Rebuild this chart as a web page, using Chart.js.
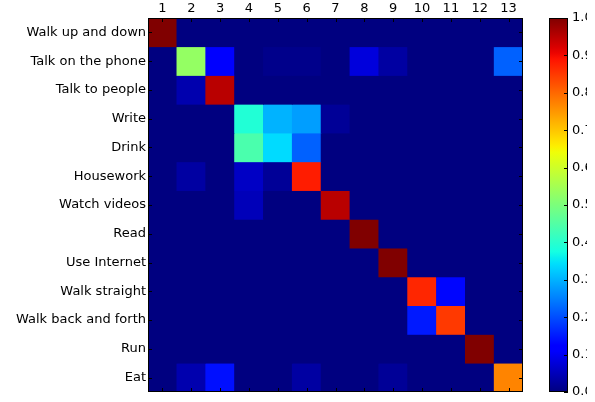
<!DOCTYPE html>
<html>
<head>
<meta charset="utf-8">
<script src="https://cdn.jsdelivr.net/npm/chart.js@4.4.0/dist/chart.umd.min.js"></script>
<style>
  html, body { margin: 0; padding: 0; background: #fff; }
  #wrap { position: relative; width: 595px; height: 402px; }
  #wrap canvas { position: absolute; left: 0; top: 0; }
</style>
</head>
<body>
<div id="wrap">
  <canvas id="matrix" width="595" height="402"></canvas>
  <canvas id="colorbar" width="595" height="402"></canvas>
</div>
<script>
// Activity classes (true class on rows, predicted class index on columns)
const activities = [
  'Walk up and down', 'Talk on the phone', 'Talk to people', 'Write', 'Drink',
  'Housework', 'Watch videos', 'Read', 'Use Internet', 'Walk straight',
  'Walk back and forth', 'Run', 'Eat'
];
const predictedLabels = ['1','2','3','4','5','6','7','8','9','10','11','12','13'];

// Row-normalised confusion rates
const walkUpDown    = [1.00, 0,    0,    0,    0,    0,    0,    0,    0,    0,    0,    0,    0   ];
const talkPhone     = [0,    0.53, 0.12, 0,    0.01, 0.01, 0,    0.08, 0.03, 0,    0,    0,    0.22];
const talkPeople    = [0,    0.04, 0.95, 0,    0,    0,    0,    0,    0,    0,    0,    0,    0   ];
const write         = [0,    0,    0,    0.39, 0.30, 0.28, 0.02, 0,    0,    0,    0,    0,    0   ];
const drink         = [0,    0,    0,    0.44, 0.34, 0.22, 0,    0,    0,    0,    0,    0,    0   ];
const housework     = [0,    0.03, 0,    0.06, 0.02, 0.88, 0,    0,    0,    0,    0,    0,    0   ];
const watchVideos   = [0,    0,    0,    0.05, 0,    0,    0.95, 0,    0,    0,    0,    0,    0   ];
const read          = [0,    0,    0,    0,    0,    0,    0,    1.00, 0,    0,    0,    0,    0   ];
const useInternet   = [0,    0,    0,    0,    0,    0,    0,    0,    1.00, 0,    0,    0,    0   ];
const walkStraight  = [0,    0,    0,    0,    0,    0,    0,    0,    0,    0.87, 0.13, 0,    0   ];
const walkBackForth = [0,    0,    0,    0,    0,    0,    0,    0,    0,    0.15, 0.85, 0,    0   ];
const run           = [0,    0,    0,    0,    0,    0,    0,    0,    0,    0,    0,    1.00, 0   ];
const eat           = [0,    0.04, 0.14, 0,    0,    0.03, 0,    0,    0.02, 0,    0,    0,    0.77];

const rates = [walkUpDown, talkPhone, talkPeople, write, drink, housework, watchVideos,
               read, useInternet, walkStraight, walkBackForth, run, eat];

const colorbarTicks = [0.0, 0.1, 0.2, 0.3, 0.4, 0.5, 0.6, 0.7, 0.8, 0.9, 1.0];

// Jet colour map (piecewise linear segments)
const JET = {
  r: [[0, 0], [0.35, 0], [0.66, 1], [0.89, 1], [1, 0.5]],
  g: [[0, 0], [0.125, 0], [0.375, 1], [0.64, 1], [0.91, 0], [1, 0]],
  b: [[0, 0.5], [0.11, 1], [0.34, 1], [0.65, 0], [1, 0]]
};
function channel(segs, v) {
  for (let i = 1; i < segs.length; i++) {
    if (v <= segs[i][0]) {
      const [x0, y0] = segs[i - 1], [x1, y1] = segs[i];
      return y0 + (y1 - y0) * (v - x0) / (x1 - x0);
    }
  }
  return segs[segs.length - 1][1];
}
function jet(v) {
  v = Math.max(0, Math.min(1, v));
  const c = k => Math.round(255 * channel(JET[k], v));
  return `rgb(${c('r')},${c('g')},${c('b')})`;
}

Chart.defaults.font.family = "'DejaVu Sans', sans-serif";
Chart.defaults.font.size = 13;
Chart.defaults.color = '#000';

// Inward tick marks plus a black frame, drawn on the given sides
function frameTicks(chart, sides, len) {
  const { ctx, chartArea: a } = chart;
  ctx.save();
  ctx.strokeStyle = '#000';
  ctx.lineWidth = 1;
  ctx.beginPath();
  const x = chart.scales.x, y = chart.scales.y;
  if (sides.includes('top') || sides.includes('bottom')) {
    x.ticks.forEach((t, i) => {
      const px = Math.round(x.getPixelForTick(i)) + 0.5;
      if (sides.includes('top'))    { ctx.moveTo(px, a.top);    ctx.lineTo(px, a.top + len); }
      if (sides.includes('bottom')) { ctx.moveTo(px, a.bottom); ctx.lineTo(px, a.bottom - len); }
    });
  }
  y.ticks.forEach((t, i) => {
    const py = Math.round(y.getPixelForTick(i)) + 0.5;
    if (sides.includes('left'))  { ctx.moveTo(a.left, py);  ctx.lineTo(a.left + len, py); }
    if (sides.includes('right')) { ctx.moveTo(a.right, py); ctx.lineTo(a.right - len, py); }
  });
  ctx.stroke();
  ctx.strokeRect(Math.round(a.left) + 0.5, Math.round(a.top) + 0.5,
                 Math.round(a.right - a.left) - 1, Math.round(a.bottom - a.top) - 1);
  ctx.restore();
}

const matrixPlugin = {
  id: 'matrixFrame',
  beforeDatasetsDraw(chart) {
    const { ctx, chartArea: a } = chart;
    ctx.save();
    ctx.fillStyle = jet(0);
    ctx.fillRect(a.left, a.top, a.right - a.left, a.bottom - a.top);
    ctx.restore();
  },
  afterDatasetsDraw(chart) { frameTicks(chart, ['top', 'bottom', 'left', 'right'], 4); }
};

// One floating-bar dataset per true class: each bar spans one row, coloured by its rate
const datasets = rates.map((row, r) => ({
  label: activities[r],
  data: row.map(() => [r - 0.5, r + 0.5]),
  backgroundColor: row.map(jet),
  borderWidth: 0,
  borderSkipped: false,
  barPercentage: 1,
  categoryPercentage: 1,
  grouped: false
}));

const noGrid = { display: false, drawTicks: false };

new Chart(document.getElementById('matrix'), {
  type: 'bar',
  data: { labels: predictedLabels, datasets },
  options: {
    responsive: false,
    animation: false,
    events: [],
    layout: { padding: { left: 0, top: 0, right: 72, bottom: 10 } },
    plugins: { legend: { display: false }, tooltip: { enabled: false } },
    scales: {
      x: {
        type: 'category',
        position: 'top',
        offset: true,
        grid: noGrid,
        border: { display: false },
        ticks: { padding: 2, maxRotation: 0, autoSkip: false },
        afterFit: s => { s.height = 18; }
      },
      y: {
        type: 'linear',
        min: -0.5,
        max: 12.5,
        reverse: true,
        grid: noGrid,
        border: { display: false },
        afterBuildTicks: s => { s.ticks = activities.map((_, i) => ({ value: i })); },
        ticks: { padding: 2, autoSkip: false, callback: v => activities[v] },
        afterFit: s => { s.width = 148; s.paddingTop = 0; s.paddingBottom = 0; }
      }
    }
  },
  plugins: [matrixPlugin]
});

// Colour bar: jet gradient laid along a 0–1 linear scale
const colorbarPlugin = {
  id: 'colorbarFill',
  beforeDatasetsDraw(chart) {
    const { ctx, chartArea: a, scales: { y } } = chart;
    const grad = ctx.createLinearGradient(0, y.getPixelForValue(0), 0, y.getPixelForValue(1));
    const steps = 64;
    for (let i = 0; i <= steps; i++) grad.addColorStop(i / steps, jet(i / steps));
    ctx.save();
    ctx.fillStyle = grad;
    ctx.fillRect(a.left, a.top, a.right - a.left, a.bottom - a.top);
    ctx.restore();
  },
  afterDatasetsDraw(chart) { frameTicks(chart, ['right'], 4); }
};

new Chart(document.getElementById('colorbar'), {
  type: 'scatter',
  data: { datasets: [{ data: [] }] },
  options: {
    responsive: false,
    animation: false,
    events: [],
    layout: { padding: { left: 549, top: 18, right: 8, bottom: 10 } },
    plugins: { legend: { display: false }, tooltip: { enabled: false } },
    scales: {
      x: { display: false, min: 0, max: 1 },
      y: {
        position: 'right',
        min: 0,
        max: 1,
        grid: noGrid,
        border: { display: false },
        afterBuildTicks: s => { s.ticks = colorbarTicks.map(v => ({ value: v })); },
        ticks: { padding: 4, callback: v => Number(v).toFixed(1) },
        afterFit: s => { s.width = 19; s.paddingTop = 0; s.paddingBottom = 0; }
      }
    }
  },
  plugins: [colorbarPlugin]
});
</script>
</body>
</html>
